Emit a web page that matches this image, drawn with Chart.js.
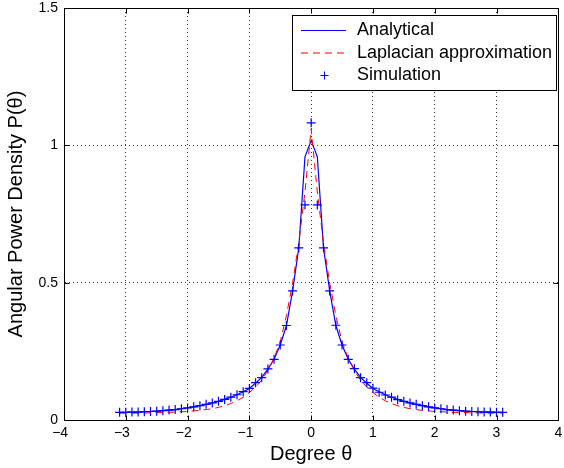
<!DOCTYPE html>
<html>
<head>
<meta charset="utf-8">
<script src="https://cdn.jsdelivr.net/npm/chart.js@4/dist/chart.umd.min.js"></script>
<style>
html,body{margin:0;padding:0;background:#fff;}
#wrap{width:564px;height:468px;position:relative;}
canvas{display:block;}
</style>
</head>
<body>
<div id="wrap"><canvas id="c" width="564" height="468"></canvas></div>
<script>
// ---- data ----
const thetaDeg = [-3.1,-3.0,-2.9,-2.8,-2.7,-2.6,-2.5,-2.4,-2.3,-2.2,-2.1,-2.0,-1.9,-1.8,-1.7,-1.6,-1.5,-1.4,-1.3,-1.2,-1.1,-1.0,-0.9,-0.8,-0.7,-0.6,-0.5,-0.4,-0.3,-0.2,-0.1,0,
  0.1,0.2,0.3,0.4,0.5,0.6,0.7,0.8,0.9,1.0,1.1,1.2,1.3,1.4,1.5,1.6,1.7,1.8,1.9,2.0,2.1,2.2,2.3,2.4,2.5,2.6,2.7,2.8,2.9,3.0,3.1];

const simulation = [0.028,0.028,0.029,0.029,0.030,0.031,0.032,0.034,0.036,0.038,0.041,0.044,0.048,0.052,0.057,0.062,0.068,0.075,0.083,0.092,0.103,0.115,0.136,0.154,0.186,0.221,0.273,0.344,0.470,0.627,0.783,1.082,
  0.783,0.627,0.470,0.345,0.273,0.221,0.187,0.154,0.136,0.116,0.101,0.091,0.083,0.074,0.068,0.062,0.057,0.052,0.048,0.044,0.041,0.038,0.036,0.034,0.032,0.031,0.030,0.029,0.029,0.028,0.028];

const analytical = [0.028,0.028,0.029,0.029,0.030,0.031,0.032,0.034,0.036,0.038,0.041,0.044,0.048,0.052,0.057,0.062,0.068,0.075,0.083,0.092,0.103,0.115,0.134,0.155,0.185,0.221,0.273,0.344,0.470,0.627,0.958,1.018,
  0.958,0.627,0.470,0.344,0.273,0.221,0.185,0.155,0.134,0.115,0.103,0.092,0.083,0.075,0.068,0.062,0.057,0.052,0.048,0.044,0.041,0.038,0.036,0.034,0.032,0.031,0.030,0.029,0.029,0.028,0.028];

const laplacian = [0.025,0.025,0.025,0.025,0.026,0.026,0.027,0.027,0.028,0.029,0.030,0.031,0.033,0.035,0.038,0.041,0.046,0.052,0.060,0.070,0.083,0.100,0.120,0.145,0.180,0.225,0.285,0.380,0.500,0.645,0.830,1.060,
  0.830,0.645,0.500,0.380,0.285,0.225,0.180,0.145,0.120,0.100,0.083,0.070,0.060,0.052,0.046,0.041,0.038,0.035,0.033,0.031,0.030,0.029,0.028,0.027,0.027,0.026,0.026,0.025,0.025,0.025,0.025];

const xTickValues = [-4,-3,-2,-1,0,1,2,3,4];
const yTickValues = [0,0.5,1,1.5];
const seriesLabels = ['Analytical','Laplacian approximation','Simulation'];
const xAxisTitle = 'Degree \u03B8';
const yAxisTitle = 'Angular Power Density P(\u03B8)';

// ---- styling ----
const FONT = "'Liberation Sans', Arial, Helvetica, sans-serif";
const BLUE = '#0000ff';
const RED = '#ff0000';
Chart.defaults.font.family = FONT;
Chart.defaults.color = '#000';

const toXY = vals => thetaDeg.map((t, i) => ({x: t, y: vals[i]}));

const gridColor = (ends) => (ctx) => (ctx.tick && ends.includes(ctx.tick.value)) ? 'rgba(0,0,0,0)' : 'rgba(0,0,0,0.8)';

const zeroPad = s => { s.paddingLeft = 0; s.paddingRight = 0; s.paddingTop = 0; s.paddingBottom = 0; };

const boxPlugin = {
  id: 'matlabBox',
  afterDatasetsDraw(chart) {
    const {ctx, scales: {x, y}} = chart;
    const L = Math.round(x.getPixelForValue(x.min)) + 0.5;
    const R = Math.round(x.getPixelForValue(x.max)) + 0.5;
    const T = Math.round(y.getPixelForValue(y.max)) + 0.5;
    const B = Math.round(y.getPixelForValue(y.min)) + 0.5;
    const tl = 5;
    ctx.save();
    ctx.setLineDash([]);
    ctx.strokeStyle = '#000';
    ctx.lineWidth = 1;
    ctx.beginPath();
    ctx.rect(L, T, R - L, B - T);
    xTickValues.forEach(v => {
      const p = Math.round(x.getPixelForValue(v)) + 0.5;
      ctx.moveTo(p, B); ctx.lineTo(p, B - tl);
      ctx.moveTo(p, T); ctx.lineTo(p, T + tl);
    });
    yTickValues.forEach(v => {
      const p = Math.round(y.getPixelForValue(v)) + 0.5;
      ctx.moveTo(L, p); ctx.lineTo(L + tl, p);
      ctx.moveTo(R, p); ctx.lineTo(R - tl, p);
    });
    ctx.stroke();
    ctx.restore();
  }
};

const legendPlugin = {
  id: 'matlabLegend',
  afterDraw(chart) {
    const {ctx} = chart;
    const bx = 292.5, by = 15.5, bw = 264, bh = 75;
    ctx.save();
    ctx.fillStyle = '#fff';
    ctx.fillRect(bx, by, bw, bh);
    ctx.strokeStyle = '#000';
    ctx.lineWidth = 1;
    ctx.setLineDash([]);
    ctx.strokeRect(bx, by, bw, bh);
    const rows = [30.5, 53, 75.5];
    const x1 = 301, x2 = 346, tx = 357;
    seriesLabels.forEach((lab, i) => {
      const ds = chart.data.datasets.find(d => d.label === lab);
      const yy = rows[i];
      ctx.lineWidth = 1;
      if (ds.showLine === false) {
        const cx = Math.round((x1 + x2) / 2) + 0.5;
        ctx.strokeStyle = ds.pointBorderColor;
        ctx.setLineDash([]);
        ctx.beginPath();
        ctx.moveTo(cx - 4, yy); ctx.lineTo(cx + 4, yy);
        ctx.moveTo(cx, yy - 4); ctx.lineTo(cx, yy + 4);
        ctx.stroke();
      } else {
        ctx.strokeStyle = ds.borderColor;
        ctx.setLineDash(ds.borderDash || []);
        ctx.beginPath();
        ctx.moveTo(x1, yy); ctx.lineTo(x2, yy);
        ctx.stroke();
      }
      ctx.setLineDash([]);
      ctx.fillStyle = '#000';
      ctx.font = '18px ' + FONT;
      ctx.textAlign = 'left';
      ctx.textBaseline = 'middle';
      ctx.fillText(lab, tx, yy);
    });
    ctx.restore();
  }
};

new Chart(document.getElementById('c'), {
  type: 'scatter',
  data: {
    datasets: [
      {
        label: seriesLabels[0],
        data: toXY(analytical),
        showLine: true,
        borderColor: BLUE,
        backgroundColor: BLUE,
        borderWidth: 1.2,
        pointRadius: 0,
        tension: 0,
        order: 3
      },
      {
        label: seriesLabels[1],
        data: toXY(laplacian),
        showLine: true,
        borderColor: RED,
        backgroundColor: RED,
        borderWidth: 1,
        borderDash: [7, 5],
        pointRadius: 0,
        tension: 0,
        order: 2
      },
      {
        label: seriesLabels[2],
        data: toXY(simulation),
        showLine: false,
        borderColor: BLUE,
        backgroundColor: BLUE,
        pointBorderColor: BLUE,
        pointBackgroundColor: BLUE,
        pointStyle: 'cross',
        pointRadius: 4.5,
        pointBorderWidth: 1.2,
        order: 1
      }
    ]
  },
  options: {
    responsive: false,
    animation: false,
    devicePixelRatio: 1,
    layout: {padding: {top: 8, right: 4, left: 0, bottom: 0}},
    plugins: {
      legend: {display: false},
      tooltip: {enabled: false}
    },
    scales: {
      x: {
        type: 'linear',
        min: -4, max: 4,
        afterBuildTicks: s => { s.ticks = xTickValues.map(v => ({value: v})); },
        afterFit: s => { s.height = 48; zeroPad(s); },
        grid: {color: gridColor([-4, 4]), drawTicks: false, lineWidth: 1},
        border: {display: true, color: '#000', width: 1, dash: [1, 3]},
        ticks: {
          padding: 5,
          maxRotation: 0,
          autoSkip: false,
          font: {size: 14},
          color: '#000',
          callback: v => v < 0 ? '\u2212' + Math.abs(v) + '\u2007' : String(v)
        },
        title: {display: true, text: xAxisTitle, font: {size: 20}, color: '#000', padding: {top: 0, bottom: 2}}
      },
      y: {
        type: 'linear',
        min: 0, max: 1.5,
        afterBuildTicks: s => { s.ticks = yTickValues.map(v => ({value: v})); },
        afterFit: s => { s.width = 64; zeroPad(s); },
        grid: {color: gridColor([0, 1.5]), drawTicks: false, lineWidth: 1},
        border: {display: true, color: '#000', width: 1, dash: [1, 3]},
        ticks: {
          padding: 6,
          autoSkip: false,
          font: {size: 14},
          color: '#000',
          callback: v => String(v)
        },
        title: {display: true, text: yAxisTitle, font: {size: 20}, color: '#000', padding: {top: 4, bottom: 0}}
      }
    }
  },
  plugins: [boxPlugin, legendPlugin]
});
</script>
</body>
</html>
